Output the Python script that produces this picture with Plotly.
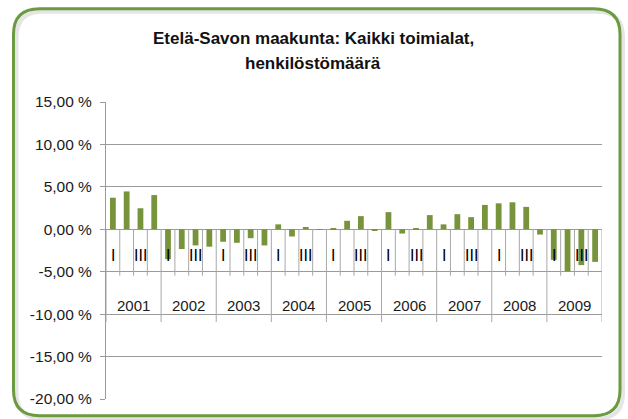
import plotly.graph_objects as go

# ---- data ----
years = ["2001", "2002", "2003", "2004", "2005", "2006", "2007", "2008", "2009"]
quarters = ["I", "II", "III", "IV"]
quarter_shown = ["I", "", "III", ""]
values = [
    3.72, 4.46, 2.48, 4.03,      # 2001
    -3.53, -2.33, -1.90, -2.05,  # 2002
    -1.47, -1.59, -1.05, -1.90,  # 2003
    0.58, -0.85, 0.27, 0.02,     # 2004
    0.12, 1.00, 1.55, -0.15,     # 2005
    2.02, -0.50, 0.15, 1.67,     # 2006
    0.58, 1.78, 1.43, 2.87,      # 2007
    3.06, 3.18, 2.64, -0.62,     # 2008
    -3.60, -4.96, -4.22, -3.84,  # 2009
]
ytick_vals = [15, 10, 5, 0, -5, -10, -15, -20]
ytick_text = ["15,00 %", "10,00 %", "5,00 %", "0,00 %", "-5,00 %", "-10,00 %", "-15,00 %", "-20,00 %"]
title_lines = ["Etelä-Savon maakunta: Kaikki toimialat,", "henkilöstömäärä"]

# ---- layout constants ----
W, H = 628, 419
L, R, T, B = 106, 26, 102, 16
FONT = "Liberation Sans, Arial, sans-serif"
GRID = "#9a9a9a"
TICKC = "#a8a8a8"
BAR = "#77933C"

n = len(values)
xpos = list(range(n))

pw, ph = W - L - R, H - T - B
def px(xv):
    return (xv - L) / pw
def py(yv):
    return (H - B - yv) / ph

fig = go.Figure()
fig.add_trace(go.Bar(x=xpos, y=values, width=0.42, marker=dict(color=BAR, line=dict(width=0)),
                     hoverinfo="y"))

shapes = []
# category-axis divider lines (quarter and year boundaries)
for i in range(n + 1):
    is_year = (i % len(quarters) == 0)
    shapes.append(dict(type="line", xref="x", yref="y", x0=i - 0.5, x1=i - 0.5,
                       y0=0, y1=(-10.93 if is_year else -5.47),
                       line=dict(color=TICKC, width=1), layer="above"))

annotations = []
# quarter labels
for i in range(n):
    q = quarter_shown[i % len(quarters)]
    if q:
        annotations.append(dict(x=i, y=-3.14, xref="x", yref="y", text=q,
                                showarrow=False,
                                font=dict(family=FONT, size=16, color="#000"),
                                xanchor="center", yanchor="middle"))
# year labels
for k, yr in enumerate(years):
    annotations.append(dict(x=k * 4 + 1.5, y=-9.0, xref="x", yref="y", text=yr, showarrow=False,
                            font=dict(family=FONT, size=15, color="#1a1a1a"),
                            xanchor="center", yanchor="middle"))
# title (two lines)
for line, ypix in zip(title_lines, [38, 63]):
    annotations.append(dict(x=px(313), y=py(ypix), xref="paper", yref="paper",
                            text="<b>" + line + "</b>",
                            showarrow=False, align="center",
                            font=dict(family=FONT, size=17, color="#111"),
                            xanchor="center", yanchor="middle"))

def rounded_path(x0, y0, x1, y1, r):
    pts = [
        ("M", x0 + r, y0), ("L", x1 - r, y0), ("Q", x1, y0, x1, y0 + r),
        ("L", x1, y1 - r), ("Q", x1, y1, x1 - r, y1), ("L", x0 + r, y1),
        ("Q", x0, y1, x0, y1 - r), ("L", x0, y0 + r), ("Q", x0, y0, x0 + r, y0),
    ]
    s = ""
    for p in pts:
        if p[0] == "Q":
            s += f"Q{px(p[1]):.5f},{py(p[2]):.5f} {px(p[3]):.5f},{py(p[4]):.5f} "
        else:
            s += f"{p[0]}{px(p[1]):.5f},{py(p[2]):.5f} "
    return s + "Z"

shapes.insert(0, dict(type="path", xref="paper", yref="paper",
                      path=rounded_path(16.5, 10.5, 623, 423, 26),
                      line=dict(color="rgba(0,0,0,0.10)", width=4), layer="below"))
shapes.append(dict(type="path", xref="paper", yref="paper",
                   path=rounded_path(13.5, 7.5, 620, 420, 26),
                   line=dict(color="#6B9A40", width=3), layer="above"))

fig.update_layout(
    width=W, height=H,
    margin=dict(l=L, r=R, t=T, b=B, pad=0),
    paper_bgcolor="white", plot_bgcolor="white",
    showlegend=False,
    bargap=0.58,
    shapes=shapes,
    annotations=annotations,
    xaxis=dict(range=[-0.5, n - 0.5], showticklabels=False, showgrid=False,
               zeroline=False, showline=False, fixedrange=True),
    yaxis=dict(range=[-20, 15], tickvals=ytick_vals, ticktext=ytick_text,
               showgrid=True, gridcolor=GRID, gridwidth=1, zeroline=False,
               showline=True, linecolor=GRID, linewidth=1,
               ticks="outside", ticklen=5, tickcolor=GRID, ticklabelstandoff=5,
               tickfont=dict(family=FONT, size=15.5, color="#1a1a1a"),
               fixedrange=True),
)

fig.write_html("out.html", config={"displayModeBar": False},
               post_script="document.body.style.margin='0';document.body.style.overflow='hidden';")
